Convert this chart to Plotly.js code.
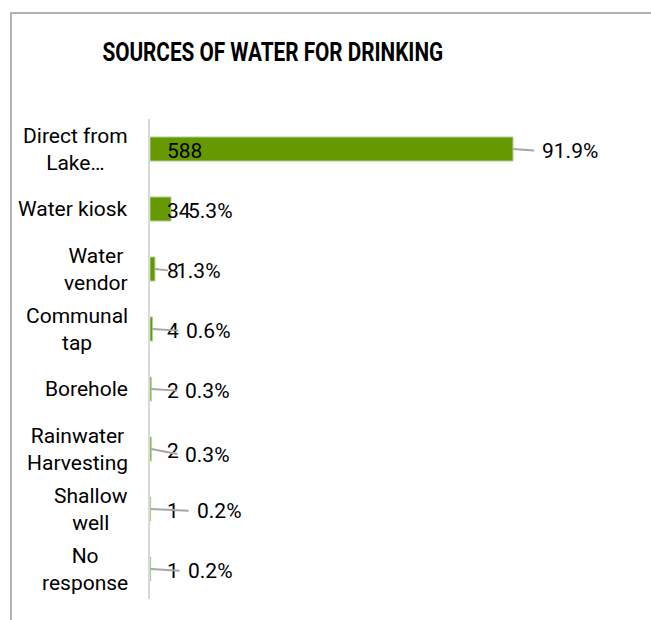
<!DOCTYPE html>
<html>
<head>
<meta charset="utf-8">
<script src="https://cdn.plot.ly/plotly-3.0.1.min.js"></script>
<style>
html,body{margin:0;padding:0;background:#fff;}
#wrap{position:relative;width:651px;height:620px;overflow:hidden;}
#chart{position:absolute;left:0;top:0;width:651px;height:620px;}
#frame{position:absolute;left:10px;top:12px;width:700px;height:700px;border-left:2px solid #b3b3b3;border-top:2px solid #b3b3b3;pointer-events:none;}
</style>
</head>
<body>
<div id="wrap"><div id="chart"></div><div id="frame"></div></div>
<script>
// ---- data ----
const categories = ["Direct from<br>Lake…", "Water kiosk", "Water<br>vendor", "Communal<br>tap", "Borehole", "Rainwater<br>Harvesting", "Shallow<br>well", "No<br>response"];
const counts = [588, 34, 8, 4, 2, 2, 1, 1];
const percentLabels = ["91.9%", "5.3%", "1.3%", "0.6%", "0.3%", "0.3%", "0.2%", "0.2%"];
const chartTitle = "SOURCES OF WATER FOR DRINKING";

// ---- label styling (pixel offsets of the percentage labels, as placed in the original) ----
const pctOffsetX = [29, 17, 21, 34, 34, 34, 46, 37];
const pctOffsetY = [0, 0, 0, 0, 0, 4, 0, 0];
const pctLeader = [true, false, true, true, true, true, true, true];

const ids = categories.map((c, i) => i);
const FONT = "Roboto, 'Noto Sans', sans-serif";

const trace = {
  type: "bar",
  orientation: "h",
  y: ids,
  x: counts,
  marker: {color: "#669900", line: {color: "#a9d18e", width: 1}},
  width: 0.4,
  hoverinfo: "skip"
};

const annotations = [];
categories.forEach((c, i) => {
  annotations.push({
    xref: "paper", yref: "y", x: 0, y: ids[i], xanchor: "right", yanchor: "middle",
    xshift: -20, text: c, showarrow: false, align: "center",
    font: {family: FONT, size: 21, color: "#000"}
  });
  annotations.push({
    xref: "x", yref: "y", x: 0, y: ids[i], xanchor: "left", yanchor: "middle",
    xshift: 15, yshift: -2, text: String(counts[i]), showarrow: false,
    font: {family: FONT, size: 21, color: "#000"}
  });
  annotations.push({
    xref: "x", yref: "y", x: counts[i], y: ids[i], xanchor: "left", yanchor: "middle",
    axref: "pixel", ayref: "pixel", ax: pctOffsetX[i] - 2, ay: pctOffsetY[i] + 2,
    text: percentLabels[i], showarrow: true, arrowhead: 0, arrowwidth: 2,
    arrowcolor: pctLeader[i] ? "#a6a6a6" : "rgba(0,0,0,0)", startstandoff: 6, standoff: 0,
    font: {family: FONT, size: 21, color: "#000"}
  });
});

const layout = {
  width: 651, height: 620,
  margin: {l: 150, r: 38, t: 119, b: 21},
  paper_bgcolor: "#fff", plot_bgcolor: "#fff",
  showlegend: false,
  title: {
    text: "<b>" + chartTitle + "</b>",
    xref: "container", yref: "container", x: 0.419, y: 0.916, xanchor: "center", yanchor: "middle",
    font: {family: "Roboto, sans-serif", size: 25, color: "#000"}
  },
  xaxis: {range: [0, 750], visible: false, fixedrange: true},
  yaxis: {
    range: [categories.length - 0.5, -0.5], tickvals: ids, showticklabels: false,
    showline: true, linecolor: "#d9d9d9", linewidth: 2, zeroline: false, showgrid: false, ticks: "", fixedrange: true
  },
  annotations: annotations
};

Plotly.newPlot("chart", [trace], layout, {displayModeBar: false, staticPlot: true}).then(() => {
  // condense the title horizontally (the original uses a condensed face)
  const t = document.querySelector("#chart .gtitle");
  if (t) {
    const bb = t.getBBox();
    const s = 341 / bb.width;
    const cx = bb.x + bb.width / 2;
    t.setAttribute("transform", `translate(${cx},0) scale(${s},1) translate(${-cx},0)`);
  }
});
</script>
</body>
</html>
